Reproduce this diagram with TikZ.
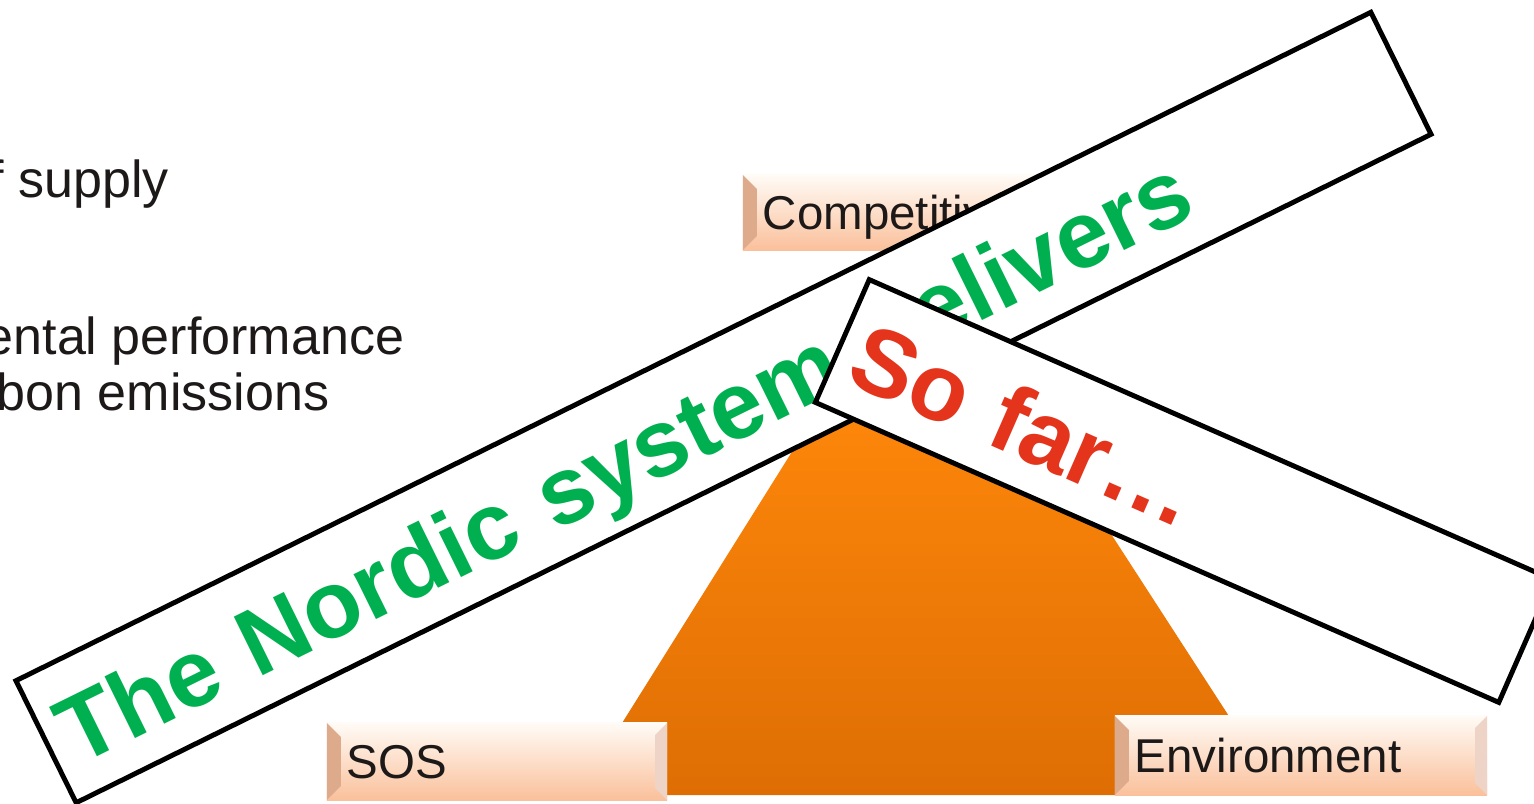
\documentclass[tikz,border=0pt]{standalone}
\usepackage{fontspec}
\setmainfont{Liberation Sans}
\usetikzlibrary{shapes,positioning}
\definecolor{nordicgreen}{RGB}{0,176,80}
\definecolor{sofarred}{RGB}{228,52,28}
\definecolor{orangetop}{RGB}{253,134,10}
\definecolor{orangebot}{RGB}{222,110,4}
\definecolor{tagtop}{RGB}{255,251,246}
\definecolor{tagbot}{RGB}{250,192,155}
\definecolor{tagbevel}{RGB}{222,170,140}
\definecolor{ink}{RGB}{30,25,25}

\begin{document}
\begin{tikzpicture}[x=0.01cm, y=-0.01cm,
bullet/.style={anchor=base west, inner sep=0pt, text=ink,
  font=\fontsize{14.8}{17}\selectfont},
tag/.style={top color=tagtop, bottom color=tagbot, inner xsep=0.2cm,
  inner ysep=0pt, minimum height=#1, align=left, text=ink,
  text height=9.7pt, text depth=0pt,
  font=\fontsize{13.5}{16}\selectfont,
  path picture={
    \fill[tagbevel] (path picture bounding box.north west) -- ++(0.14cm,-0.14cm)
      -- ([xshift=0.14cm,yshift=0.14cm]path picture bounding box.south west)
      -- (path picture bounding box.south west) -- cycle;
    \fill[tagbevel!50] (path picture bounding box.north east) -- ++(-0.12cm,-0.12cm)
      -- ([xshift=-0.12cm,yshift=0.12cm]path picture bounding box.south east)
      -- (path picture bounding box.south east) -- cycle;}},
banner/.style={draw=black, fill=white, line width=1.4pt, inner xsep=0.17cm,
  align=left, text height=0.73cm, text depth=0pt,
  font=\fontsize{27}{30}\selectfont\bfseries}]

\useasboundingbox (0,0) rectangle (1534,803);
\clip (0,0) rectangle (1534,803);

% bullets running in from the left
\node[bullet] (sup) at (-11,197) {f supply};
\node[bullet] (perf) at (-16,354) {ental performance};
\node[bullet] (emis) at (-4,410) {bon emissions};

% the triangle body
\shade[top color=orangetop, bottom color=orangebot]
  (577,795) -- (815,415) -- (1034,415) -- (1280,795) -- cycle;

\node[tag=0.75cm, text width=3.4cm] (comp) at (933,212.5) {Competitiveness};
\node[tag=0.77cm, text width=3.0cm] (sos) at (497,761.5) {SOS};
\node[tag=0.79cm, text width=3.32cm] (env) at (1301,755.5) {Environment};

% banners on top
\node[banner, minimum width=15.1cm, minimum height=1.36cm, text width=14.76cm,
  text=nordicgreen, rotate=26.26] (nordic) at (723.5,407.5) {The Nordic system delivers};
\node[banner, minimum width=7.46cm, minimum height=1.34cm, text width=7.12cm,
  text=sofarred, rotate=-23.7] (sofar) at (1184,491) {So far…};
\end{tikzpicture}
\end{document}
